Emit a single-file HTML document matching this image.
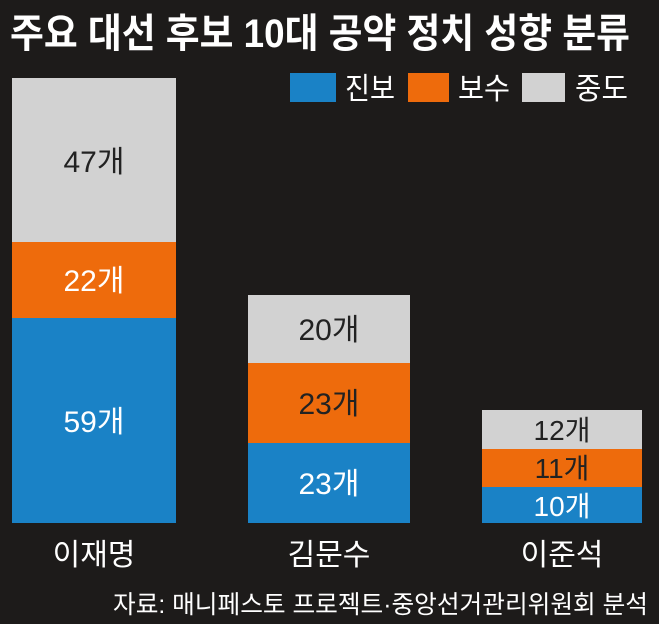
<!DOCTYPE html>
<html><head><meta charset="utf-8"><style>
html,body{margin:0;padding:0;background:#1d1b1a;}
svg{display:block}
text{font-family:"Liberation Sans","Noto Sans CJK KR",sans-serif;}
</style></head><body>
<svg width="659" height="624" viewBox="0 0 659 624" xmlns="http://www.w3.org/2000/svg">
<rect width="659" height="624" fill="#1d1b1a"/>
<text x="10" y="47" font-size="40" font-weight="bold" fill="#fff" textLength="620" lengthAdjust="spacingAndGlyphs">주요 대선 후보 10대 공약 정치 성향 분류</text>
<rect x="290" y="73" width="46" height="29" fill="#1a82c6"/>
<text x="345" y="99" font-size="30" fill="#fff" textLength="50" lengthAdjust="spacingAndGlyphs">진보</text>
<rect x="408" y="73" width="41" height="29" fill="#ee6b0c"/>
<text x="458" y="99" font-size="30" fill="#fff" textLength="52" lengthAdjust="spacingAndGlyphs">보수</text>
<rect x="522" y="73" width="43" height="29" fill="#d2d2d2"/>
<text x="575" y="99" font-size="30" fill="#fff" textLength="53" lengthAdjust="spacingAndGlyphs">중도</text>

<rect x="12" y="78" width="164" height="164" fill="#d2d2d2"/>
<rect x="12" y="242" width="164" height="76" fill="#ee6b0c"/>
<rect x="12" y="318" width="164" height="205" fill="#1a82c6"/>
<text x="94" y="172" font-size="30" fill="#222" text-anchor="middle">47개</text>
<text x="94" y="291" font-size="30" fill="#fff" text-anchor="middle">22개</text>
<text x="94" y="432" font-size="30" fill="#fff" text-anchor="middle">59개</text>

<rect x="248" y="295" width="162" height="68" fill="#d2d2d2"/>
<rect x="248" y="363" width="162" height="80" fill="#ee6b0c"/>
<rect x="248" y="443" width="162" height="80" fill="#1a82c6"/>
<text x="329" y="340" font-size="30" fill="#222" text-anchor="middle">20개</text>
<text x="329" y="414" font-size="30" fill="#222" text-anchor="middle">23개</text>
<text x="329" y="494" font-size="30" fill="#fff" text-anchor="middle">23개</text>

<rect x="482" y="410" width="160" height="39" fill="#d2d2d2"/>
<rect x="482" y="449" width="160" height="38" fill="#ee6b0c"/>
<rect x="482" y="487" width="160" height="36" fill="#1a82c6"/>
<text x="562" y="440" font-size="28" fill="#222" text-anchor="middle">12개</text>
<text x="562" y="478" font-size="28" fill="#222" text-anchor="middle">11개</text>
<text x="562" y="516" font-size="28" fill="#fff" text-anchor="middle">10개</text>

<text x="94" y="565" font-size="30" fill="#fff" text-anchor="middle">이재명</text>
<text x="329" y="565" font-size="30" fill="#fff" text-anchor="middle">김문수</text>
<text x="562" y="565" font-size="30" fill="#fff" text-anchor="middle">이준석</text>

<text x="648" y="613" font-size="25" fill="#fff" text-anchor="end" textLength="535" lengthAdjust="spacingAndGlyphs">자료: 매니페스토 프로젝트·중앙선거관리위원회 분석</text>
</svg>
</body></html>
